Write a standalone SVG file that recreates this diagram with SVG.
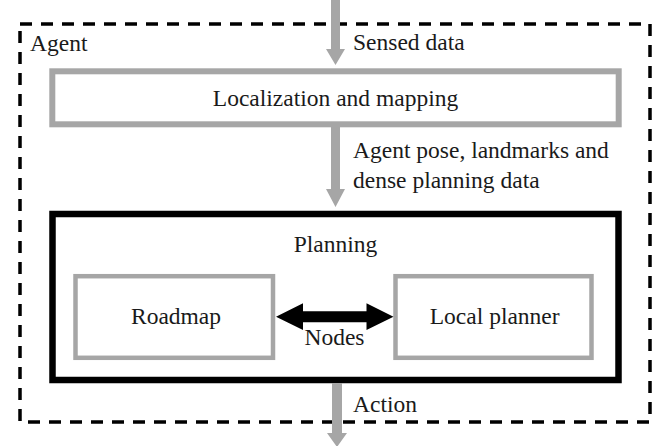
<svg xmlns="http://www.w3.org/2000/svg" width="665" height="446" viewBox="0 0 665 446">
<style>
text{font-family:"Liberation Serif","Times New Roman",serif;font-size:23.5px;fill:#1a1a1a}
.g{fill:none;stroke:#a6a6a6}
.ga{fill:#a6a6a6}
.c{text-anchor:middle}
</style>
<rect width="665" height="446" fill="#fff"/>
<g id="agent">
<rect x="20" y="24" width="630" height="398" fill="none" stroke="#000" stroke-width="3.5" stroke-dasharray="12 9"/>
<text x="30" y="51">Agent</text>
</g>
<g id="localization">
<rect class="g" stroke-width="6" x="52.3" y="71.3" width="566.4" height="53"/>
<text class="c" x="335.5" y="106">Localization and mapping</text>
</g>
<g id="planning">
<rect x="52.5" y="214" width="566" height="166" fill="none" stroke="#000" stroke-width="6.5"/>
<text class="c" x="335.5" y="252">Planning</text>
</g>
<g id="roadmap">
<rect class="g" stroke-width="4.5" x="75.5" y="276.2" width="197.5" height="81.6"/>
<text class="c" x="176" y="324">Roadmap</text>
</g>
<g id="local">
<rect class="g" stroke-width="4.5" x="395.5" y="276.2" width="196" height="81.6"/>
<text class="c" x="494.7" y="324">Local planner</text>
</g>
<g id="connectors">
<polygon class="ga" points="331,0 340,0 340,49 345,49 335.5,65 326,49 331,49"/>
<text x="353" y="50">Sensed data</text>
<polygon class="ga" points="331,127 340,127 340,189 345,189 335.5,207 326,189 331,189"/>
<text x="353" y="158">Agent pose, landmarks and</text>
<text x="353" y="188">dense planning data</text>
<polygon fill="#000" points="276,316.7 303,303.3 303,311.2 366.5,311.2 366.5,303.3 393.5,316.7 366.5,330 366.5,322.2 303,322.2 303,330"/>
<text class="c" x="334.5" y="345">Nodes</text>
<polygon class="ga" points="332,383 342,383 342,433 347,433 337,447 327,433 332,433"/>
<text x="353" y="412">Action</text>
</g>
</svg>
